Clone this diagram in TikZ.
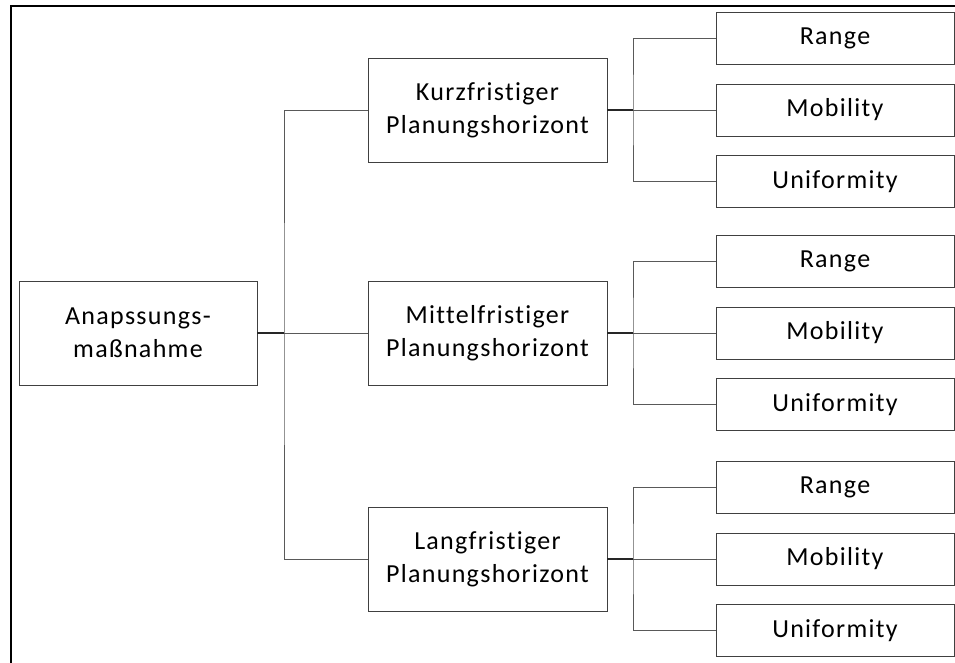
\documentclass[tikz,border=0pt]{standalone}
\usepackage{fontspec}
\setmainfont[LetterSpace=5,Ligatures={NoCommon,NoContextual}]{Carlito}
\begin{document}
\begin{tikzpicture}[x=1pt,y=-1pt,
  box/.style={draw=black!75,line width=0.9pt,fill=white,align=center,
    inner sep=0pt,font=\fontsize{26}{33}\selectfont,text=black},
  rootbox/.style={box,minimum width=238pt,minimum height=104pt},
  midbox/.style={box,minimum width=239pt,minimum height=104pt},
  leafbox/.style={box,minimum width=238pt,minimum height=52pt},
  conn/.style={draw=black!65,line width=0.9pt},
  stub/.style={draw=black!85,line width=1.3pt},
  frame/.style={draw=black,line width=2pt}]
\useasboundingbox (0,0) rectangle (955,663);

% outer frame (left and top edges)
\draw[frame] (11,664) -- (11,6) -- (956,6);

% root
\node[rootbox] (root) at (138,333) {Anapssungs-\\maßnahme};
\coordinate (rj) at (284,333);

% planning horizons
\node[midbox] (k) at (487.5,110) {Kurzfristiger\\Planungshorizont};
\node[midbox] (m) at (487.5,333) {Mittelfristiger\\Planungshorizont};
\node[midbox] (l) at (487.5,559) {Langfristiger\\Planungshorizont};

\draw[conn] (k.west) -| (rj) |- (l.west);
\draw[conn] (rj) -- (m.west);
\draw[stub] (root.east) -- (rj);

% criteria per horizon
\foreach \p/\y in {k/110,m/333,l/559}{
  \node[leafbox] (\p r) at (835,\y-71.5) {Range};
  \node[leafbox] (\p m) at (835,\y) {Mobility};
  \node[leafbox] (\p u) at (835,\y+71.5) {Uniformity};
  \coordinate (\p j) at (633,\y);
  \draw[conn] (\p r.west) -| (\p j) |- (\p u.west);
  \draw[conn] (\p j) -- (\p m.west);
  \draw[stub] (\p.east) -- (\p j);
}
\end{tikzpicture}
\end{document}
